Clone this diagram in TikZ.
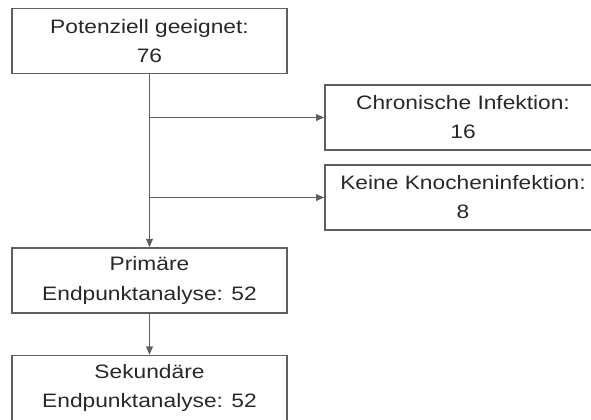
\documentclass[tikz,border=0pt]{standalone}
\usepackage{fontspec}
\setmainfont{Liberation Sans}[FakeStretch=1.17]
\usetikzlibrary{arrows.meta}
\definecolor{linegray}{RGB}{95,95,95}
\definecolor{textgray}{RGB}{40,40,40}

\begin{document}
\begin{tikzpicture}[x=0.54pt,y=-0.54pt,
    box/.style={draw=linegray, line width=0.75pt, text=textgray, align=center,
        minimum width=148.5pt, minimum height=35.1pt, inner sep=0pt,
        font=\fontsize{10.5}{15.7}\selectfont},
    flow/.style={draw=linegray, line width=0.75pt,
        -{Triangle[length=4.5pt,width=3.6pt]}}]
\clip (0,0) rectangle (591,419);

% the boxes of the flow
\node[box] (pot)   at (149.5,41)  {Potenziell geeignet:\\76};
\node[box] (prim)  at (149.5,280.5) {Primäre\\Endpunktanalyse: 52};
\node[box] (sek)   at (149.5,388) {Sekundäre\\Endpunktanalyse: 52};
\node[box, minimum width=149pt] (chron) at (463,117.5) {Chronische Infektion:\\16};
\node[box, minimum width=149pt] (keine) at (463,197.5) {Keine Knocheninfektion:\\8};

% branch points on the trunk
\coordinate (b1) at (pot.south |- chron.west);
\coordinate (b2) at (pot.south |- keine.west);

% connect them
\draw[flow] (pot.south) -- (prim.north);
\draw[flow] (b1) -- (chron.west);
\draw[flow] (b2) -- (keine.west);
\draw[flow] (prim.south) -- (sek.north);

\end{tikzpicture}
\end{document}
